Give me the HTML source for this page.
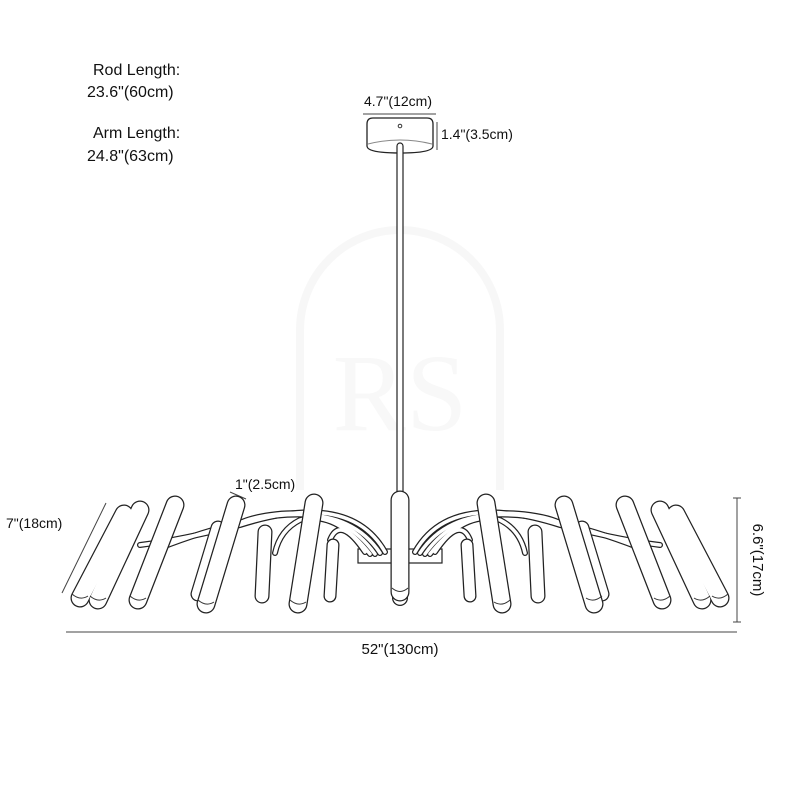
<!DOCTYPE html>
<html><head><meta charset="utf-8"><style>
html,body{margin:0;padding:0;background:#fff;}
svg{display:block;font-family:"Liberation Sans",sans-serif;}
</style></head><body>
<svg width="800" height="800" viewBox="0 0 800 800" xmlns="http://www.w3.org/2000/svg">
<!-- watermark -->
<path d="M300 490 L300 330 A100 100 0 0 1 500 330 L500 490" fill="none" stroke="#f7f7f7" stroke-width="8"/>
<text x="400" y="430" font-size="110" fill="#f8f8f8" text-anchor="middle" font-family="Liberation Serif,serif">RS</text>

<g fill="#111" font-size="16">
<text x="93" y="75">Rod Length:</text>
<text x="87" y="97">23.6"(60cm)</text>
<text x="93" y="138">Arm Length:</text>
<text x="87" y="161">24.8"(63cm)</text>
<text x="364" y="106" font-size="14">4.7"(12cm)</text>
<text x="441" y="139" font-size="14">1.4"(3.5cm)</text>
<text x="235" y="489" font-size="14">1"(2.5cm)</text>
<text x="6" y="528" font-size="14">7"(18cm)</text>
<text x="400" y="654" font-size="15" text-anchor="middle">52"(130cm)</text>
<text transform="translate(753,560) rotate(90)" font-size="15" text-anchor="middle">6.6"(17cm)</text>
</g>

<!-- dimension lines -->
<g stroke="#444" stroke-width="1" fill="none">
<line x1="363" y1="114" x2="436" y2="114"/>
<line x1="437" y1="122" x2="437" y2="150"/>
<line x1="230" y1="492" x2="246" y2="499"/>
<line x1="106" y1="503" x2="62" y2="593"/>
<line x1="66" y1="632" x2="737" y2="632"/>
<line x1="737" y1="498" x2="737" y2="622"/>
<line x1="733" y1="498" x2="741" y2="498"/>
<line x1="733" y1="622" x2="741" y2="622"/>
</g>

<!-- canopy -->
<path d="M367 124 Q367 118 373 118 L427 118 Q433 118 433 124 L433 146 Q433 153 400 153 Q367 153 367 146 Z" fill="#fff" stroke="#222" stroke-width="1.3"/>
<path d="M368 144 Q400 136 432 144" fill="none" stroke="#888" stroke-width="1"/>
<circle cx="400" cy="126" r="1.8" fill="none" stroke="#333"/>
<!-- rod -->
<rect x="397" y="143" width="6" height="355" rx="3" fill="#fff" stroke="#222" stroke-width="1.2"/>

<!-- hub plate -->
<rect x="358" y="549" width="84" height="14" fill="#fff" stroke="#222" stroke-width="1.2"/>

<!-- arms -->
<g fill="none" stroke-linecap="round">
<g stroke="#222" stroke-width="6">
<path d="M385 552 Q350 490 240 525 Q180 540 140 545"/>
<path d="M380 553 Q345 500 250 520 Q200 532 160 548"/>
<path d="M375 554 Q340 505 270 515 Q220 522 230 545"/>
<path d="M370 554 Q335 510 300 520 Q280 530 275 553"/>
<path d="M365 552 Q340 515 330 540"/>
<path d="M415 552 Q450 490 560 525 Q620 540 660 545"/>
<path d="M420 553 Q455 500 550 520 Q600 532 640 548"/>
<path d="M425 554 Q460 505 530 515 Q580 522 570 545"/>
<path d="M430 554 Q465 510 500 520 Q520 530 525 553"/>
<path d="M435 552 Q460 515 470 540"/>
</g>
<g stroke="#fff" stroke-width="3.5">
<path d="M385 552 Q350 490 240 525 Q180 540 140 545"/>
<path d="M380 553 Q345 500 250 520 Q200 532 160 548"/>
<path d="M375 554 Q340 505 270 515 Q220 522 230 545"/>
<path d="M370 554 Q335 510 300 520 Q280 530 275 553"/>
<path d="M365 552 Q340 515 330 540"/>
<path d="M415 552 Q450 490 560 525 Q620 540 660 545"/>
<path d="M420 553 Q455 500 550 520 Q600 532 640 548"/>
<path d="M425 554 Q460 505 530 515 Q580 522 570 545"/>
<path d="M430 554 Q465 510 500 520 Q520 530 525 553"/>
<path d="M435 552 Q460 515 470 540"/>
</g>
</g>

<!-- back tubes -->
<g stroke-linecap="round">
<g stroke="#222">
<line x1="265" y1="532" x2="262" y2="596" stroke-width="15"/>
<line x1="333" y1="545" x2="330" y2="596" stroke-width="13"/>
<line x1="218" y1="528" x2="198" y2="594" stroke-width="15"/>
<line x1="535" y1="532" x2="538" y2="596" stroke-width="15"/>
<line x1="467" y1="545" x2="470" y2="596" stroke-width="13"/>
<line x1="582" y1="528" x2="602" y2="594" stroke-width="15"/>
<line x1="400" y1="510" x2="400" y2="598" stroke-width="16"/>
</g>
<g stroke="#fff">
<line x1="265" y1="532" x2="262" y2="596" stroke-width="12.5"/>
<line x1="333" y1="545" x2="330" y2="596" stroke-width="10.5"/>
<line x1="218" y1="528" x2="198" y2="594" stroke-width="12.5"/>
<line x1="535" y1="532" x2="538" y2="596" stroke-width="12.5"/>
<line x1="467" y1="545" x2="470" y2="596" stroke-width="10.5"/>
<line x1="582" y1="528" x2="602" y2="594" stroke-width="12.5"/>
<line x1="400" y1="510" x2="400" y2="598" stroke-width="13.5"/>
</g>
</g>
<!-- front tubes -->
<g stroke-linecap="round">
<g stroke="#222" stroke-width="19">
<line x1="124" y1="514" x2="80" y2="598"/>
<line x1="140" y1="510" x2="98" y2="600"/>
<line x1="175" y1="505" x2="138" y2="600"/>
<line x1="236" y1="505" x2="206" y2="604"/>
<line x1="314" y1="503" x2="298" y2="604"/>
<line x1="400" y1="500" x2="400" y2="592"/>
<line x1="486" y1="503" x2="502" y2="604"/>
<line x1="564" y1="505" x2="594" y2="604"/>
<line x1="625" y1="505" x2="662" y2="600"/>
<line x1="660" y1="510" x2="702" y2="600"/>
<line x1="676" y1="514" x2="720" y2="598"/>
</g>
<g stroke="#fff" stroke-width="16.5">
<line x1="124" y1="514" x2="80" y2="598"/>
<line x1="140" y1="510" x2="98" y2="600"/>
<line x1="175" y1="505" x2="138" y2="600"/>
<line x1="236" y1="505" x2="206" y2="604"/>
<line x1="314" y1="503" x2="298" y2="604"/>
<line x1="400" y1="500" x2="400" y2="592"/>
<line x1="486" y1="503" x2="502" y2="604"/>
<line x1="564" y1="505" x2="594" y2="604"/>
<line x1="625" y1="505" x2="662" y2="600"/>
<line x1="660" y1="510" x2="702" y2="600"/>
<line x1="676" y1="514" x2="720" y2="598"/>
</g>
</g>
<!-- bulb tips -->
<g fill="none" stroke="#333" stroke-width="1">
<path d="M72 594 Q80 601 88 596"/><path d="M90 596 Q98 603 106 598"/><path d="M130 596 Q138 603 146 598"/>
<path d="M198 600 Q206 607 214 602"/><path d="M290 600 Q298 607 306 602"/><path d="M392 588 Q400 595 408 588"/>
<path d="M494 602 Q502 607 510 600"/><path d="M586 598 Q594 603 602 596"/><path d="M654 598 Q662 603 670 596"/>
<path d="M694 598 Q702 603 710 596"/><path d="M712 596 Q720 601 728 594"/>
</g>
</svg>
</body></html>
